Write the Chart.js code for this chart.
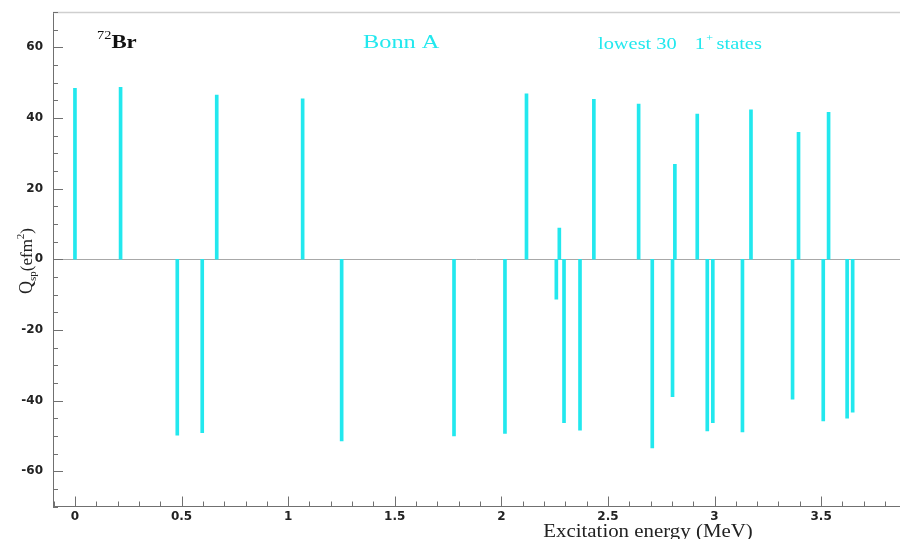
<!DOCTYPE html>
<html>
<head>
<meta charset="utf-8">
<script src="https://cdn.jsdelivr.net/npm/chart.js@4.4.1/dist/chart.umd.min.js"></script>
<style>
  html, body { margin: 0; padding: 0; background: #fff; }
  #wrap { width: 900px; height: 539px; position: relative; }
</style>
</head>
<body>
<div id="wrap"><canvas id="qsp-chart"></canvas></div>
<script>
// excitation energies (MeV) of the lowest 30 1+ states and their Qsp (efm^2)
const energies = [
  0.000, 0.214, 0.480, 0.597, 0.665, 1.068, 1.251, 1.778, 2.017, 2.118,
  2.258, 2.272, 2.294, 2.369, 2.434, 2.644, 2.708, 2.803, 2.814, 2.919,
  2.966, 2.992, 3.131, 3.171, 3.366, 3.394, 3.510, 3.535, 3.622, 3.648
];
const qValues = [
  48.4, 48.7, -49.8, -49.1, 46.5, 45.4, -51.4, -50.0, -49.3, 46.8,
  -11.3, 8.8, -46.3, -48.4, 45.3, 43.9, -53.4, -38.9, 26.9, 41.1,
  -48.6, -46.3, -48.9, 42.3, -39.6, 35.9, -45.8, 41.6, -45.0, -43.3
];
const xTickLabels = [0, 0.5, 1, 1.5, 2, 2.5, 3, 3.5];
const yTickLabels = [-60, -40, -20, 0, 20, 40, 60];

const CYAN = '#22e8ee';
const AXIS = '#707070';
const serif = '"Liberation Serif", "DejaVu Serif", serif';

// draws [text, font, baselineShift, gapAfter] pieces, stretched by sx
function drawRuns(ctx, runs, x, y, sx) {
  ctx.save();
  ctx.translate(x, y);
  ctx.scale(sx, 1);
  let cx = 0;
  runs.forEach(r => {
    ctx.font = r[1];
    ctx.fillText(r[0], cx, r[2]);
    cx += ctx.measureText(r[0]).width + (r[3] || 0);
  });
  ctx.restore();
}
function runsWidth(ctx, runs) {
  let w = 0;
  runs.forEach(r => { ctx.font = r[1]; w += ctx.measureText(r[0]).width + (r[3] || 0); });
  return w;
}

// frame, zero line, inward ticks and text labels
const decorations = {
  id: 'decorations',
  beforeDatasetsDraw(chart) {
    const { ctx, chartArea: a, scales: { y } } = chart;
    ctx.save();
    ctx.strokeStyle = '#cfcfcf';
    ctx.lineWidth = 1.5;
    ctx.beginPath();
    ctx.moveTo(a.left, a.top + 0.5);
    ctx.lineTo(a.right, a.top + 0.5);
    ctx.stroke();
    ctx.strokeStyle = '#a8a8a8';
    ctx.lineWidth = 1;
    const y0 = Math.round(y.getPixelForValue(0)) + 0.5;
    ctx.beginPath();
    ctx.moveTo(a.left, y0);
    ctx.lineTo(a.right, y0);
    ctx.stroke();
    ctx.restore();
  },
  afterDraw(chart) {
    const { ctx, chartArea: a, scales: { x, y } } = chart;
    ctx.save();
    ctx.strokeStyle = AXIS;
    ctx.lineWidth = 1;
    ctx.beginPath();
    for (let i = -1; i <= 38; i++) {
      const px = Math.round(x.getPixelForValue(i / 10)) + 0.5;
      const len = i % 5 === 0 ? 10 : 5;
      ctx.moveTo(px, a.bottom);
      ctx.lineTo(px, a.bottom - len);
    }
    for (let v = -70; v <= 70; v += 5) {
      const py = Math.round(y.getPixelForValue(v)) + 0.5;
      const len = v % 20 === 0 ? 10 : 5;
      ctx.moveTo(a.left, py);
      ctx.lineTo(a.left + len, py);
    }
    ctx.stroke();

    ctx.textBaseline = 'alphabetic';
    ctx.textAlign = 'left';

    // nucleus label
    ctx.fillStyle = '#111';
    drawRuns(ctx, [
      ['72', '12px ' + serif, -9],
      ['Br', 'bold 19px ' + serif, 0]
    ], 97, 48, 1.2);

    // interaction and state labels
    ctx.fillStyle = CYAN;
    drawRuns(ctx, [['Bonn A', '19px ' + serif, 0]], 363, 48, 1.28);
    drawRuns(ctx, [
      ['lowest 30', '17px ' + serif, 0, 15],
      ['1', '17px ' + serif, 0, 1],
      ['+', '10px ' + serif, -8, 3],
      ['states', '17px ' + serif, 0]
    ], 598, 49, 1.2);

    // axis titles
    ctx.fillStyle = '#222';
    const xTitle = [['Excitation energy (MeV)', '18px ' + serif, 0]];
    drawRuns(ctx, xTitle, 648 - runsWidth(ctx, xTitle) * 1.16 / 2, 537, 1.16);

    const yTitle = [
      ['Q', '18px ' + serif, 0],
      ['sp', '11px ' + serif, 4],
      ['(efm', '17px ' + serif, 0],
      ['2', '11px ' + serif, -8],
      [')', '17px ' + serif, 0]
    ];
    ctx.translate(32, 261);
    ctx.rotate(-Math.PI / 2);
    drawRuns(ctx, yTitle, -runsWidth(ctx, yTitle) / 2, 0, 1);
    ctx.restore();
  }
};

const tickFont = { family: '"DejaVu Sans", Arial, sans-serif', size: 12, weight: 'bold' };

new Chart(document.getElementById('qsp-chart'), {
  type: 'bar',
  data: {
    datasets: [{
      data: energies.map((e, i) => ({ x: e, y: qValues[i] })),
      backgroundColor: CYAN,
      borderWidth: 0,
      barThickness: 3
    }]
  },
  options: {
    responsive: true,
    maintainAspectRatio: false,
    animation: false,
    layout: { padding: { top: 12, right: 0, left: 0, bottom: 0 } },
    plugins: { legend: { display: false }, tooltip: { enabled: false } },
    scales: {
      x: {
        type: 'linear',
        offset: false,
        min: -0.103,
        max: 3.87,
        grid: { display: false, drawTicks: false, offset: false },
        border: { display: true, color: AXIS, width: 1 },
        afterBuildTicks: s => { s.ticks = xTickLabels.map(v => ({ value: v })); },
        afterFit: s => { s.height = 32.5; s.paddingLeft = 0; s.paddingRight = 0; },
        ticks: {
          autoSkip: false, maxRotation: 0, padding: 3,
          color: '#222', font: tickFont,
          callback: v => String(v)
        }
      },
      y: {
        min: -70,
        max: 70,
        grid: { display: false, drawTicks: false },
        border: { display: true, color: AXIS, width: 1 },
        afterBuildTicks: s => { s.ticks = yTickLabels.map(v => ({ value: v })); },
        afterFit: s => { s.width = 53; s.paddingTop = 0; s.paddingBottom = 0; },
        ticks: {
          padding: 10, color: '#222', font: tickFont,
          callback: v => String(v)
        }
      }
    }
  },
  plugins: [decorations]
});
</script>
</body>
</html>
